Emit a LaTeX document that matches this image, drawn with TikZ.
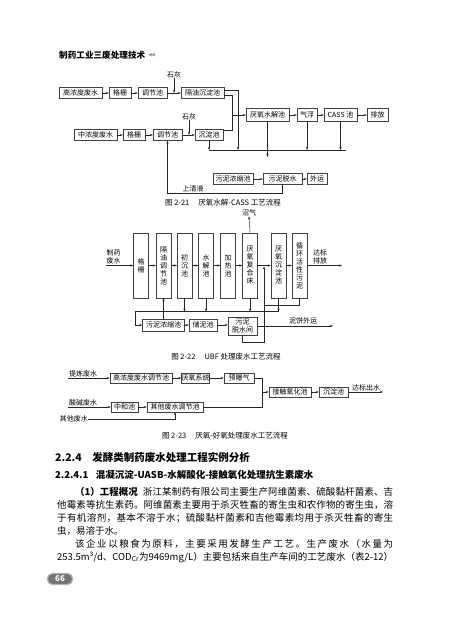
\documentclass[tikz,border=0pt]{standalone}
\usepackage{fontspec}
\setmainfont{Noto Sans CJK SC}
\newfontfamily\symfont{DejaVu Sans}
\usetikzlibrary{arrows.meta}
\def\spreadend{}
\def\spreadendmark{\spreadend}
\def\spreadtoks#1{\spreadfirst#1\spreadend}
\def\spreadfirst#1{{#1}\spreadnext}
\def\spreadnext#1{\def\sptmp{#1}\ifx\sptmp\spreadendmark\else\hfill{#1}\expandafter\spreadnext\fi}
\begin{document}
\begin{tikzpicture}[x=1pt,y=-1pt,
  box/.style={draw=black!75, line width=0.45pt, inner sep=0pt, minimum height=11pt, font=\fontsize{7}{8}\selectfont},
  vbox/.style={draw=black!75, line width=0.45pt, inner sep=0pt, minimum height=65pt, minimum width=15pt, align=center, font=\fontsize{7}{8}\selectfont},
  lbl/.style={inner sep=0pt, font=\fontsize{7}{8}\selectfont},
  captxt/.style={inner sep=0pt, font=\fontsize{7.5}{9}\selectfont},
  body/.style={inner sep=0pt, anchor=west, font=\fontsize{9.5}{11}\selectfont},
  arr/.style={-{Stealth[length=3pt,width=2.2pt]}, line width=0.45pt, draw=black!85},
  ln/.style={line width=0.45pt, draw=black!85},
  pill/.style={rounded corners=5pt, fill=black!55, draw=black!30, line width=1.2pt, text=white, inner sep=0pt, minimum width=25pt, minimum height=11pt, font=\bfseries\fontsize{8}{9}\selectfont}]
\useasboundingbox[fill=white] (0,0) rectangle (450,629);

% header
\node[anchor=west, inner sep=0pt, font=\bfseries\fontsize{8.6}{10}\selectfont] (hdr) at (59,55) {制药工业三废处理技术};
\node[anchor=west, inner sep=0pt, text=black!40, font=\symfont\fontsize{5}{6}\selectfont] (hdrsym) at (148,55) {◀\kern-0.8pt◀};

% ---------- Fig 2-21 ----------
\node[box, minimum width=43pt] (a1) at (80.5,93) {高浓度废水};
\node[box, minimum width=22pt] (a2) at (120,93) {格栅};
\node[box, minimum width=29pt] (a3) at (152.5,93) {调节池};
\node[box, minimum width=43pt] (a4) at (202.5,93) {隔油沉淀池};
\draw[arr] (a1) -- (a2);
\draw[arr] (a2) -- (a3);
\draw[arr] (a3) -- (a4);
\node[lbl] (lime1) at (174,75) {石灰};
\coordinate (lj1) at (174,93);
\draw[arr] (lime1.south) -- (lj1);

\node[box, minimum width=43pt] (b1) at (95.5,135) {中浓度废水};
\node[box, minimum width=22pt] (b2) at (134,135) {格栅};
\node[box, minimum width=29pt] (b3) at (167.5,135) {调节池};
\node[box, minimum width=28pt] (b4) at (209,135) {沉淀池};
\draw[arr] (b1) -- (b2);
\draw[arr] (b2) -- (b3);
\draw[arr] (b3) -- (b4);
\node[lbl] (lime2) at (189,117) {石灰};
\coordinate (lj2) at (189,135);
\draw[arr] (lime2.south) -- (lj2);

\node[box, minimum width=43pt, minimum height=13pt] (c1) at (267.5,115) {厌氧水解池};
\node[box, minimum width=20pt, minimum height=13pt] (c2) at (307,115) {气浮};
\node[box, minimum width=33pt, minimum height=13pt] (c3) at (340.5,115) {CASS 池};
\node[box, minimum width=21pt, minimum height=13pt] (c4) at (377.5,115) {排放};
\draw[arr] (c1) -- (c2);
\draw[arr] (c2) -- (c3);
\draw[arr] (c3) -- (c4);

\coordinate (m1) at (232,115);
\draw[ln] ([yshift=-2pt]a4.east) -| (m1);
\draw[ln] ([yshift=5pt]b4.east) -| (m1);
\draw[arr] (m1) -- (c1.west);
\coordinate (s1) at (238,150);
\draw[arr] ([yshift=3pt]a4.east) -| (s1);
\coordinate (sl0) at (209,150);
\coordinate (sl1) at (346,150);
\draw[ln] (sl0) -- (sl1);
\draw[arr] (b4.south) -- (sl0);
\draw[arr] (c2.south) -- (c2.south |- sl0);
\draw[arr] (c3.south) -- (c3.south |- sl0);
\coordinate (s2) at (267.5,157);
\draw[arr] (c1.south) -- (s2);

\node[box, minimum width=40pt] (d1) at (233,179) {污泥浓缩池};
\node[box, minimum width=39pt] (d2) at (282.5,179) {污泥脱水};
\node[box, minimum width=20pt] (d3) at (317,179) {外运};
\draw[arr] (d1) -- (d2);
\draw[arr] (d2) -- (d3);
\coordinate (q1) at (282.5,193);
\coordinate (q2) at (167.5,193);
\draw[arr] (d2.south) -- (q1) -- (q2) -- (b3.south);
\node[lbl] (qlbl) at (193,189) {上清液};
\node[captxt] (cap1) at (223,203) {图 2-21\hspace{1.2em}厌氧水解-CASS 工艺流程};

% ---------- Fig 2-22 ----------
\node[vbox] (e1) at (141,265.5) {格\\栅};
\node[vbox] (e2) at (163.5,265.5) {隔\\油\\调\\节\\池};
\node[vbox] (e3) at (184.5,265.5) {初\\沉\\池};
\node[vbox] (e4) at (206,265.5) {水\\解\\池};
\node[vbox] (e5) at (228,265.5) {加\\热\\池};
\node[vbox] (e6) at (250,265.5) {厌\\氧\\复\\合\\床};
\node[vbox] (e7) at (278.5,265.5) {厌\\氧\\沉\\淀\\池};
\node[vbox] (e8) at (299.5,265.5) {循\\环\\活\\性\\污\\泥};
\node[lbl, align=center] (in2) at (113.5,257) {制药\\废水};
\coordinate (in2s) at (106,265.5);
\draw[arr] (in2s) -- (e1.west);
\draw[arr] (e1) -- (e2);
\draw[arr] (e2) -- (e3);
\draw[arr] (e3) -- (e4);
\draw[arr] (e4) -- (e5);
\draw[arr] (e5) -- (e6);
\draw[arr] (e6) -- (e7);
\draw[arr] (e7) -- (e8);
\node[lbl] (gas) at (249,213) {沼气};
\draw[arr] (e6.north) -- (gas.south);
\coordinate (out2) at (342,265.5);
\draw[arr] (e8.east) -- (out2);
\node[lbl, align=center] (outl) at (320,257) {达标\\排放};
\coordinate (jd) at (264,266.5);

\coordinate (sa) at (135,311.5);
\coordinate (sb) at (278.5,311.5);
\draw[ln] (sa) -- (sb);
\draw[arr] (e3.south) -- (e3.south |- sa);
\draw[arr] (e4.south) -- (e4.south |- sa);
\draw[arr] (e6.south) -- (e6.south |- sa);
\draw[arr] (e7.south) -- (sb);

\node[box, minimum width=42pt, minimum height=12pt] (f1) at (163.5,325) {污泥浓缩池};
\node[box, minimum width=28pt, minimum height=12pt] (f2) at (203,325) {储泥池};
\node[box, minimum width=29pt, minimum height=18pt, align=center] (f3) at (242.5,326) {污泥\\脱水间};
\draw[arr] (sa) |- (f1.west);
\draw[arr] (f1) -- (f2);
\draw[arr] (f2) -- (f1.east -| f3.west);
\draw[arr] (f1.north) -- (e2.south);
\coordinate (r1) at (264,305);
\coordinate (r2) at (264,342);
\draw[ln] (e8.south) |- (r1);
\draw[arr] (f3.south) |- (r2) -- (jd);
\coordinate (cake) at (333,326);
\draw[arr] (f3.east) -- (cake);
\node[lbl] (cakel) at (303,321) {泥饼外运};
\node[captxt] (cap2) at (226,357) {图 2-22\hspace{1.2em}UBF 处理废水工艺流程};

% ---------- Fig 2-23 ----------
\coordinate (g0) at (68,378);
\node[lbl] (g0l) at (83,373.5) {提炼废水};
\node[box, minimum width=62pt, minimum height=10pt] (h1) at (141,378) {高浓度废水调节池};
\node[box, minimum width=25pt, minimum height=10pt] (h2) at (195.5,378) {厌氧系统};
\node[box, minimum width=30pt, minimum height=10pt] (h3) at (239,378) {预曝气};
\draw[arr] (g0) -- (h1.west);
\draw[arr] (h1) -- (h2);
\draw[arr] (h2) -- (h3);
\node[box, minimum width=42pt, minimum height=10pt] (k1) at (290,392) {接触氧化池};
\node[box, minimum width=29pt, minimum height=10pt] (k2) at (333.5,392) {沉淀池};
\coordinate (mj) at (262,392);
\draw[ln] (h3.east) -| (mj);
\draw[arr] (mj) -- (k1.west);
\draw[arr] (k1) -- (k2);
\coordinate (kout) at (383,392);
\draw[arr] (k2.east) -- (kout);
\node[lbl, anchor=south] (koutl) at (366,391) {达标出水};
\coordinate (g1) at (68,407);
\node[lbl] (g1l) at (83,402.5) {酸碱废水};
\node[box, minimum width=27pt, minimum height=10pt] (n1) at (124.5,407) {中和池};
\node[box, minimum width=56pt, minimum height=10pt] (n2) at (175,407) {其他废水调节池};
\draw[arr] (g1) -- (n1.west);
\draw[arr] (n1) -- (n2);
\draw[ln] (n2.east) -| (mj);
\node[lbl, anchor=east] (oth) at (88,419) {其他废水};
\draw[arr] (oth.east) -| (n2.south);
\node[captxt] (cap3) at (225,436) {图 2-23\hspace{1.2em}厌氧-好氧处理废水工艺流程};

% ---------- text ----------
\node[anchor=west, inner sep=0pt, font=\bfseries\fontsize{10.5}{12}\selectfont] (h224) at (55,457) {2.2.4\hspace{1em}发酵类制药废水处理工程实例分析};
\node[anchor=west, inner sep=0pt, font=\bfseries\fontsize{9.5}{11}\selectfont] (h2241) at (55,475) {2.2.4.1\hspace{0.8em}混凝沉淀-UASB-水解酸化-接触氧化处理抗生素废水};
\node[body] (t1) at (75,492) {\hbox to 318pt{\spreadtoks{{\bfseries（1）工程概况}{\hspace{0.5em}}浙江某制药有限公司主要生产阿维菌素、硫酸黏杆菌素、吉}}};
\node[body] (t2) at (57,505) {\hbox to 336pt{\spreadtoks{他霉素等抗生素药。阿维菌素主要用于杀灭牲畜的寄生虫和农作物的寄生虫，溶}}};
\node[body] (t3) at (57,518) {\hbox to 336pt{\spreadtoks{于有机溶剂，基本不溶于水；硫酸黏杆菌素和吉他霉素均用于杀灭牲畜的寄生}}};
\node[body] (t4) at (57,531) {虫，易溶于水。};
\node[body] (t5) at (75,544) {\hbox to 318pt{\spreadtoks{该企业以粮食为原料，主要采用发酵生产工艺。生产废水（水量为}}};
\node[body] (t6) at (57,557) {\hbox to 336pt{\spreadtoks{{253.5m³/d、}{COD\textsubscript{Cr}}为{9469mg/L}）主要包括来自生产车间的工艺废水（表{2-12}）}}};
\node[pill] (pg) at (60,579) {66};
\end{tikzpicture}
\end{document}
